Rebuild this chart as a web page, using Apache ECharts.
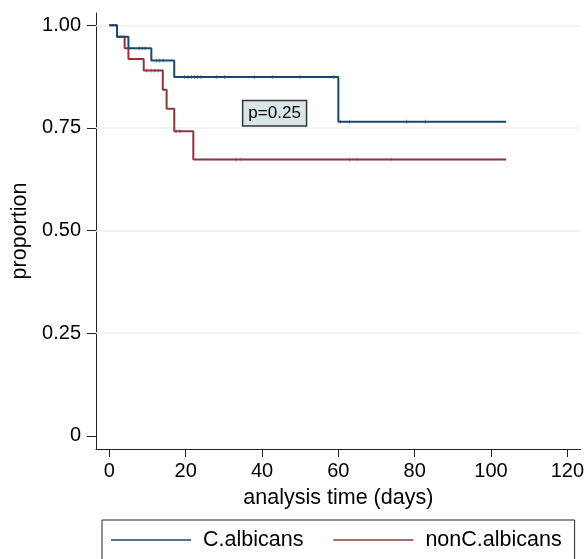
<!DOCTYPE html>
<html>
<head>
<meta charset="utf-8">
<script src="https://cdn.jsdelivr.net/npm/echarts@6/dist/echarts.min.js"></script>
<style>html,body{margin:0;padding:0;background:#fff}#chart{width:587px;height:559px}</style>
</head>
<body>
<div id="chart"></div>
<script>
// Kaplan-Meier step points (time in days, survival proportion)
var albTimes = [0, 2, 5, 11, 17, 60, 104];
var albSurv = [1, 0.972, 0.944, 0.914, 0.874, 0.765, 0.765];
var nonTimes = [0, 2, 4, 5, 9, 14, 15, 17, 22, 104];
var nonSurv = [1, 0.972, 0.944, 0.918, 0.890, 0.843, 0.797, 0.742, 0.673, 0.673];
// censoring times
var albCensor = [7.8, 8.6, 9.4, 12.4, 13.2, 14.1, 19.7, 20.6, 21.5, 22.3, 23.2, 24, 28, 30.2, 38, 42.7, 50, 58.8, 60.5, 62.9, 77.9, 82.8];
var nonCensor = [9.8, 11, 11.9, 12.8, 17.5, 18.5, 33.2, 34.5, 62.9, 64.9, 73.8];
var seriesNames = ['C.albicans', 'nonC.albicans'];
var xTicks = [0, 20, 40, 60, 80, 100, 120];
var yTicks = [0, 0.25, 0.5, 0.75, 1];
var yTickLabels = ['0', '0.25', '0.50', '0.75', '1.00'];
var gridValues = [0.25, 0.5, 0.75, 1];
var pText = 'p=0.25';
var pPos = [43.3, 0.786];

var BLUE = '#1a476f', RED = '#90353b';
var FONT = '"Liberation Sans", Arial, sans-serif';

function pairs(xs, ys) {
    return xs.map(function (x, i) { return [x, ys[i]]; });
}
// survival value at time t from a step curve
function survAt(xs, ys, t) {
    var v = ys[0];
    for (var i = 0; i < xs.length; i++) { if (xs[i] <= t) v = ys[i]; }
    return v;
}
function censorPts(times, xs, ys) {
    return times.map(function (t) { return [t, survAt(xs, ys, t)]; });
}

var chart = echarts.init(document.getElementById('chart'));
chart.setOption({
    animation: false,
    backgroundColor: '#fff',
    grid: { left: 96, right: 3, top: 13, bottom: 110 },
    xAxis: {
        type: 'value', min: -3.5, max: 123.5,
        name: 'analysis time (days)', nameLocation: 'middle', nameGap: 38,
        nameTextStyle: { fontFamily: FONT, fontSize: 21.5, color: '#000' },
        axisLine: { show: true, onZero: false, lineStyle: { color: '#222', width: 1 } },
        axisTick: { show: true, length: 8, customValues: xTicks, lineStyle: { color: '#222' } },
        axisLabel: { customValues: xTicks, margin: 12, fontFamily: FONT, fontSize: 20, color: '#000' },
        splitLine: { show: false }
    },
    yAxis: {
        type: 'value', min: -0.032, max: 1.03,
        name: 'proportion', nameLocation: 'middle', nameGap: 61,
        nameTextStyle: { fontFamily: FONT, fontSize: 21.5, color: '#000' },
        axisLine: { show: true, onZero: false, lineStyle: { color: '#222', width: 1 } },
        axisTick: { show: true, length: 9, customValues: yTicks, lineStyle: { color: '#222' } },
        axisLabel: {
            customValues: yTicks, margin: 15, fontFamily: FONT, fontSize: 20, color: '#000',
            formatter: function (v) {
                for (var i = 0; i < yTicks.length; i++) {
                    if (Math.abs(yTicks[i] - v) < 1e-6) return yTickLabels[i];
                }
                return '';
            }
        },
        splitLine: { show: false }
    },
    legend: {
        data: seriesNames,
        left: 102, top: 520,
        orient: 'horizontal',
        icon: 'rect',
        itemWidth: 80, itemHeight: 1.6, itemGap: 30,
        padding: [8, 13, 24, 9],
        borderColor: '#222', borderWidth: 1,
        textStyle: { fontFamily: FONT, fontSize: 21.5, color: '#000', padding: [0, 0, 0, 7], lineHeight: 24 }
    },
    series: [
        {
            name: 'grid', type: 'line', data: [], z: 1, silent: true,
            markLine: {
                z: 1, silent: true, symbol: 'none', label: { show: false },
                lineStyle: { color: '#e8eff2', width: 1.5, type: 'solid' },
                data: gridValues.map(function (v) { return { yAxis: v }; })
            }
        },
        {
            name: seriesNames[0], type: 'line', step: 'end', symbol: 'none',
            data: pairs(albTimes, albSurv),
            lineStyle: { color: BLUE, width: 2 }, itemStyle: { color: BLUE }, z: 3,
            markPoint: {
                symbol: 'rect', symbolSize: 0.1, itemStyle: { color: 'rgba(0,0,0,0)' },
                label: {
                    show: true, position: 'inside', formatter: pText,
                    fontFamily: FONT, fontSize: 17, color: '#000', lineHeight: 18,
                    backgroundColor: '#dae5ea', borderColor: '#333', borderWidth: 1.5,
                    padding: [3, 5, 3, 5]
                },
                data: [{ coord: pPos }]
            }
        },
        {
            name: seriesNames[1], type: 'line', step: 'end', symbol: 'none',
            data: pairs(nonTimes, nonSurv),
            lineStyle: { color: RED, width: 2 }, itemStyle: { color: RED }, z: 2
        },
        {
            name: 'albCensor', type: 'scatter', symbol: 'rect', symbolSize: [1, 4],
            data: censorPts(albCensor, albTimes, albSurv),
            itemStyle: { color: BLUE, opacity: 0.55 }, z: 4, silent: true
        },
        {
            name: 'nonCensor', type: 'scatter', symbol: 'rect', symbolSize: [1, 4],
            data: censorPts(nonCensor, nonTimes, nonSurv),
            itemStyle: { color: RED, opacity: 0.55 }, z: 4, silent: true
        }
    ]
});
</script>
</body>
</html>
